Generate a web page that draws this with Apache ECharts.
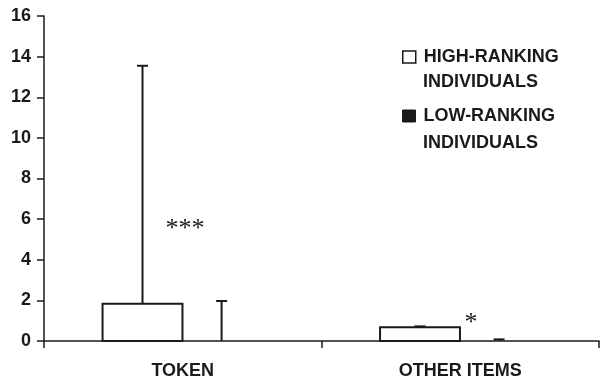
<!DOCTYPE html>
<html>
<head>
<meta charset="utf-8">
<script src="https://cdn.jsdelivr.net/npm/echarts@6/dist/echarts.min.js"></script>
<style>html,body{margin:0;padding:0;background:#fff;}#c{width:600px;height:377px;}</style>
</head>
<body>
<div id="c"></div>
<script>
const categories = ['TOKEN', 'OTHER ITEMS'];
const yTicks = [0, 2, 4, 6, 8, 10, 12, 14, 16];
// [category index, upper box edge (Q3), whisker max]
const highRanking = [[0, 1.84, 13.55], [1, 0.68, 0.72]];
const lowRanking = [[0, 0, 1.97], [1, 0, 0.08]];
const seriesNames = ['HIGH-RANKING', 'LOW-RANKING'];
const legendSecondLine = 'INDIVIDUALS';
const significance = ['***', '*'];

const FONT = '"Liberation Sans", Arial, Helvetica, sans-serif';
const INK = '#1a1a1a';

function makeRender(offset, fill) {
  return function (params, api) {
    const c = api.value(0), q3 = api.value(1), mx = api.value(2);
    const band = api.size([1, 0])[0];
    const base = api.coord([c, 0]);
    const xc = base[0] + band * offset;
    const half = band * 0.144;
    const y0 = base[1];
    const yq = api.coord([c, q3])[1];
    const ym = api.coord([c, mx])[1];
    const capHalf = 5.5;
    const children = [];
    if (y0 - yq > 0.5) {
      children.push({
        type: 'rect',
        shape: { x: xc - half, y: yq, width: half * 2, height: y0 - yq },
        style: { fill: fill, stroke: INK, lineWidth: 2 }
      });
    }
    children.push({
      type: 'line',
      shape: { x1: xc, y1: yq, x2: xc, y2: ym },
      style: { stroke: INK, lineWidth: 2 }
    });
    children.push({
      type: 'line',
      shape: { x1: xc - capHalf, y1: ym, x2: xc + capHalf, y2: ym },
      style: { stroke: INK, lineWidth: 2 }
    });
    return { type: 'group', children: children };
  };
}

const chart = echarts.init(document.getElementById('c'), null, { renderer: 'canvas' });
const legendText = { fontFamily: FONT, fontWeight: 'bold', fontSize: 18, color: INK, lineHeight: 18, padding: [0, 0, 0, 3] };
chart.setOption({
  animation: false,
  backgroundColor: '#fff',
  grid: { left: 44, right: 1, top: 16, bottom: 36, containLabel: false, outerBoundsMode: 'none' },
  legend: [
    {
      left: 402, top: 48, padding: 0, itemWidth: 13, itemHeight: 12, selectedMode: false,
      data: [{ name: seriesNames[0], icon: 'rect', itemStyle: { color: '#fff', borderColor: INK, borderWidth: 1.5 } }],
      textStyle: legendText
    },
    {
      left: 402, top: 107, padding: 0, itemWidth: 13, itemHeight: 12, selectedMode: false,
      data: [{ name: seriesNames[1], icon: 'rect', itemStyle: { color: INK, borderColor: INK, borderWidth: 1 } }],
      textStyle: legendText
    }
  ],
  graphic: [
    { type: 'text', left: 423, top: 73, style: { text: legendSecondLine, font: 'bold 18px ' + FONT, fill: INK } },
    { type: 'text', left: 423, top: 134, style: { text: legendSecondLine, font: 'bold 18px ' + FONT, fill: INK } },
    { type: 'text', x: 185, y: 229, style: { text: significance[0], font: '26px "Liberation Serif", "Times New Roman", serif', fill: INK, textAlign: 'center', textVerticalAlign: 'middle' } },
    { type: 'text', x: 471, y: 323, style: { text: significance[1], font: '26px "Liberation Serif", "Times New Roman", serif', fill: INK, textAlign: 'center', textVerticalAlign: 'middle' } }
  ],
  xAxis: {
    type: 'category',
    data: categories,
    boundaryGap: true,
    axisLine: { lineStyle: { color: INK, width: 1.5 } },
    axisTick: { show: true, length: 7, alignWithLabel: false, lineStyle: { color: INK, width: 1.5 } },
    axisLabel: { fontFamily: FONT, fontWeight: 'bold', fontSize: 18, color: INK, margin: 21 },
    splitLine: { show: false }
  },
  yAxis: {
    type: 'value',
    min: yTicks[0],
    max: yTicks[yTicks.length - 1],
    interval: yTicks[1] - yTicks[0],
    axisLine: { show: true, lineStyle: { color: INK, width: 1.5 } },
    axisTick: { show: true, length: 7, lineStyle: { color: INK, width: 1.5 } },
    axisLabel: { fontFamily: FONT, fontWeight: 'bold', fontSize: 18, color: INK, margin: 13 },
    splitLine: { show: false }
  },
  series: [
    {
      name: seriesNames[0], type: 'custom', data: highRanking,
      itemStyle: { color: '#fff', borderColor: INK },
      renderItem: makeRender(-0.145, '#fff'),
      encode: { x: 0, y: [1, 2] }
    },
    {
      name: seriesNames[1], type: 'custom', data: lowRanking,
      itemStyle: { color: INK },
      renderItem: makeRender(0.14, INK),
      encode: { x: 0, y: [1, 2] }
    }
  ]
});
</script>
</body>
</html>
